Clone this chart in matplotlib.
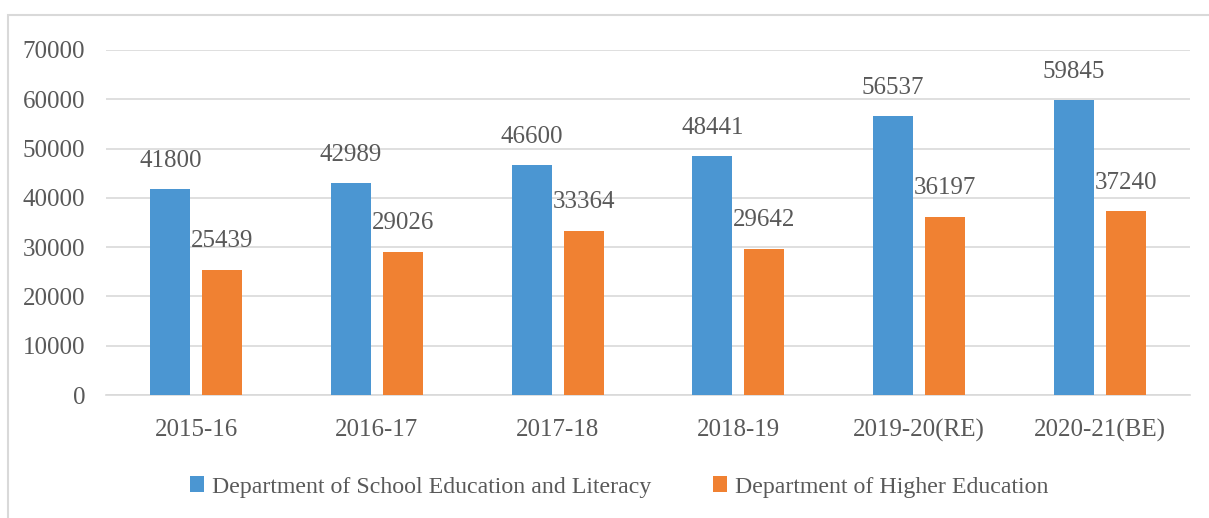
import matplotlib.pyplot as plt
import matplotlib.patches as mpatches
import numpy as np

# === Data ===
years = ['2015-16', '2016-17', '2017-18', '2018-19', '2019-20(RE)', '2020-21(BE)']
school_edu = [41800, 42989, 46600, 48441, 56537, 59845]
higher_edu = [25439, 29026, 33364, 29642, 36197, 37240]

BLUE = '#4B96D2'
ORANGE = '#F08132'
TEXT = '#595959'
GRID = '#D9D9D9'

plt.rcParams['font.family'] = ['Liberation Serif', 'DejaVu Serif']

fig = plt.figure(figsize=(12.09, 5.18), dpi=100)
ax = fig.add_axes([106 / 1209, 1 - 395 / 518, (1190 - 106) / 1209, (395 - 50) / 518])

x = np.arange(len(years))
w = 0.221
off = 0.144
b1 = ax.bar(x - off, school_edu, w, color=BLUE, label='Department of School Education and Literacy', zorder=3)
b2 = ax.bar(x + off, higher_edu, w, color=ORANGE, label='Department of Higher Education', zorder=3)

# value labels above the bars
for bars in (b1, b2):
    for rect in bars:
        h = rect.get_height()
        ax.annotate(f'{int(h)}', (rect.get_x() + rect.get_width() / 2, h),
                    xytext=(0, 20.5), textcoords='offset points',
                    ha='center', va='center', fontsize=18, color=TEXT)

ax.set_xlim(-0.5, len(years) - 0.5)
ax.set_ylim(0, 70000)
ax.set_yticks(np.arange(0, 70001, 10000))
ax.set_xticks(x)
ax.set_xticklabels(years)
ax.grid(axis='y', color=GRID, linewidth=1.2, zorder=0)
for s in ['top', 'right', 'left']:
    ax.spines[s].set_visible(False)
ax.spines['bottom'].set_color(GRID)
ax.spines['bottom'].set_linewidth(1.2)
ax.tick_params(axis='both', length=0, labelsize=18, colors=TEXT)
ax.tick_params(axis='x', pad=17)
ax.tick_params(axis='y', pad=15)

leg = fig.legend(handles=[b1, b2], loc='center', bbox_to_anchor=(0.512, 1 - 487 / 518),
                 ncol=2, frameon=False, fontsize=17.2, handlelength=0.6, handleheight=0.6,
                 handletextpad=0.3, columnspacing=2.6)
for t in leg.get_texts():
    t.set_color(TEXT)

# outer chart border (cut off at right/bottom)
fig.patches.append(mpatches.Rectangle((8 / 1209, -0.1), 1.2, 1 - 15 / 518 + 0.1,
                                      transform=fig.transFigure, fill=False,
                                      edgecolor=GRID, linewidth=1.5))

fig.savefig('out.png', dpi=100)
